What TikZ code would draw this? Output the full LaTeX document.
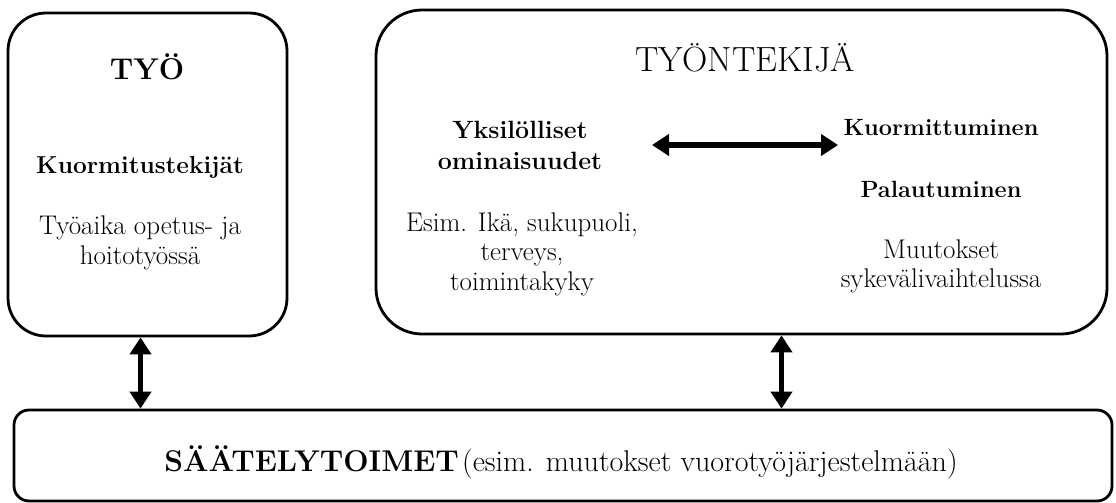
\documentclass[tikz,border=0pt]{standalone}
\usepackage{fontspec}
\usetikzlibrary{arrows.meta,calc}
\tikzset{
  box/.style={draw, line width=2.8pt, rounded corners=#1, inner sep=0pt},
  txt/.style={align=center, inner sep=0pt},
  biarrow/.style={line width=5.5pt, {Triangle[length=17pt,width=21pt]}-{Triangle[length=17pt,width=21pt]}},
}
\newcommand{\fsz}[2]{\fontsize{#1}{#2}\selectfont}
\begin{document}
\begin{tikzpicture}[x=1pt,y=-1pt]
\useasboundingbox (0,0) rectangle (1116,503);
% boxes
\node[box=38pt, minimum width=279pt, minimum height=323pt] (tyo) at (147.5,174.5) {};
\node[box=46pt, minimum width=731pt, minimum height=324pt] (tk) at (741.5,172) {};
\node[box=15pt, minimum width=1098pt, minimum height=91pt] (sat) at (563,455.5) {};
% TYÖ texts
\node[txt, font=\fsz{30}{36}\bfseries] (tyoh) at (147,67) {TYÖ};
\node[txt, font=\fsz{24.5}{30}\bfseries] (kt) at (140,167) {Kuormitustekijät};
\node[txt, font=\fsz{27}{30}] (ta) at (140,243) {Työaika opetus- ja\\hoitotyössä};
% TYÖNTEKIJÄ texts
\node[txt, font=\fsz{35}{40}] (tkh) at (745,58) {TYÖNTEKIJÄ};
\node[txt, font=\fsz{25}{31}\bfseries] (yk) at (520,145) {Yksilölliset\\ominaisuudet};
\node[txt, font=\fsz{27}{29.5}] (es) at (522,254) {Esim. Ikä, sukupuoli,\\terveys,\\toimintakyky};
\node[txt, font=\fsz{23.5}{30}\bfseries] (ku) at (941,128) {Kuormittuminen};
\node[txt, font=\fsz{23.5}{30}\bfseries] (pa) at (941,189) {Palautuminen};
\node[txt, font=\fsz{27}{29}] (mu) at (941,266) {Muutokset\\sykevälivaihtelussa};
% bottom text
\node[txt] (st) at (561,462) {{\fsz{30}{36}\bfseries SÄÄTELYTOIMET} {\fsz{30}{36}(esim. muutokset vuorotyöjärjestelmään)}};
% arrows
\coordinate (ia) at (652,145);
\coordinate (ib) at (838,145);
\draw[biarrow] ([yshift=46pt]tyo.north east) -- ([yshift=46pt]tyo.north east -| tk.west);
\draw[biarrow] (ia) -- (ib);
\draw[biarrow] ([xshift=-7pt]tyo.south) -- ([xshift=-7pt]tyo.south |- sat.north);
\draw[biarrow] ([xshift=40pt]tk.south) -- ([xshift=40pt]tk.south |- sat.north);
\end{tikzpicture}
\end{document}
